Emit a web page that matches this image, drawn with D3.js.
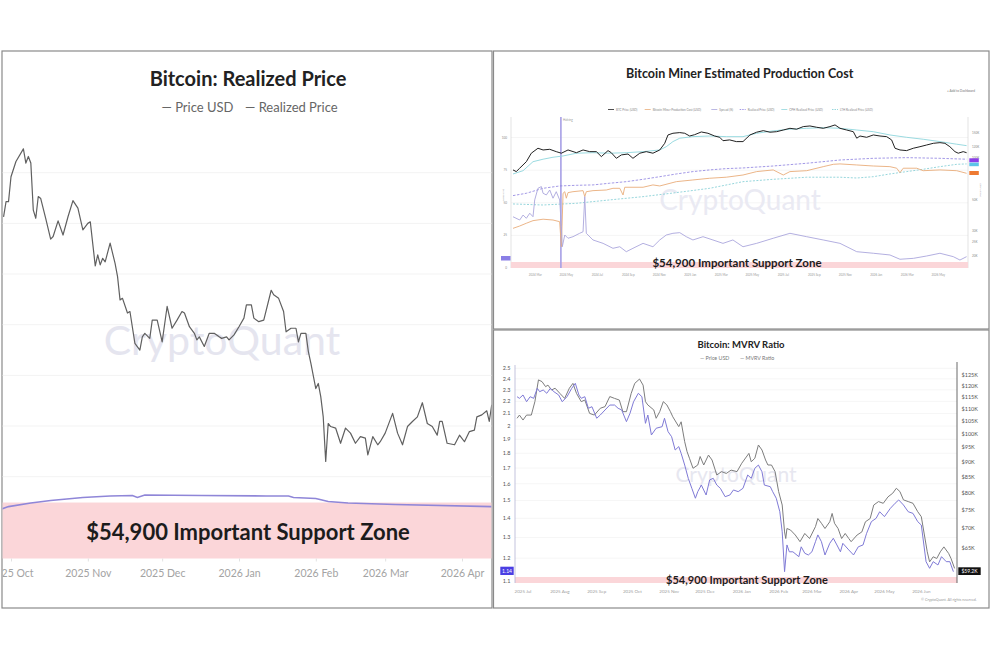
<!DOCTYPE html>
<html>
<head>
<meta charset="utf-8">
<script src="https://cdn.jsdelivr.net/npm/d3@7"></script>
<style>
  body { margin: 0; background: #fff; }
  text { font-family: Lato, "Open Sans", sans-serif; }
</style>
</head>
<body>
<svg id="chart" width="990" height="660"></svg>
<script>
// ---------- left panel: Bitcoin Realized Price (values in $K) ----------
const rpPrice = [
  ["2025-09-28",111.3],["2025-09-29",114.3],["2025-09-30",114.3],["2025-10-01",119.2],["2025-10-03",122.2],
  ["2025-10-06",124.7],["2025-10-07",121.9],["2025-10-08",123.2],["2025-10-09",121.9],["2025-10-10",112.6],
  ["2025-10-11",111.0],["2025-10-12",115.3],["2025-10-13",114.9],["2025-10-15",111.0],["2025-10-17",106.9],
  ["2025-10-18",107.4],["2025-10-20",110.5],["2025-10-22",107.7],["2025-10-24",111.3],["2025-10-26",114.5],
  ["2025-10-28",113.0],["2025-10-30",108.7],["2025-11-01",110.0],["2025-11-02",110.3],["2025-11-04",101.6],
  ["2025-11-05",103.8],["2025-11-06",101.8],["2025-11-07",103.1],["2025-11-08",102.4],["2025-11-10",106.1],
  ["2025-11-12",102.1],["2025-11-13",99.5],["2025-11-14",94.9],["2025-11-15",95.2],["2025-11-17",92.3],
  ["2025-11-18",92.6],["2025-11-20",86.3],["2025-11-22",85.0],["2025-11-23",87.6],["2025-11-24",88.3],
  ["2025-11-26",87.3],["2025-11-27",90.9],["2025-11-29",90.9],["2025-12-01",86.6],["2025-12-03",93.6],
  ["2025-12-05",89.3],["2025-12-07",90.9],["2025-12-09",92.6],["2025-12-10",92.3],["2025-12-12",89.6],
  ["2025-12-14",88.3],["2025-12-15",87.0],["2025-12-16",87.6],["2025-12-18",85.7],["2025-12-20",88.3],
  ["2025-12-22",88.3],["2025-12-24",87.6],["2025-12-25",87.3],["2025-12-27",87.6],["2025-12-28",87.0],
  ["2025-12-30",88.0],["2026-01-01",89.6],["2026-01-03",91.3],["2026-01-04",93.9],["2026-01-06",93.9],
  ["2026-01-07",91.3],["2026-01-09",90.6],["2026-01-11",90.9],["2026-01-14",96.8],["2026-01-15",95.9],
  ["2026-01-17",95.2],["2026-01-19",92.6],["2026-01-20",88.6],["2026-01-22",89.3],["2026-01-24",89.3],
  ["2026-01-25",86.6],["2026-01-26",88.3],["2026-01-28",88.3],["2026-01-29",84.7],["2026-01-30",82.4],
  ["2026-02-01",77.4],["2026-02-02",78.4],["2026-02-03",75.8],["2026-02-04",71.8],["2026-02-05",63.0],
  ["2026-02-06",70.5],["2026-02-07",69.9],["2026-02-09",69.6],["2026-02-11",66.6],["2026-02-13",69.6],
  ["2026-02-15",68.6],["2026-02-17",66.6],["2026-02-19",67.9],["2026-02-21",67.6],["2026-02-22",64.3],
  ["2026-02-24",67.9],["2026-02-26",66.3],["2026-02-27",66.9],["2026-03-01",68.6],["2026-03-04",72.5],
  ["2026-03-06",68.6],["2026-03-08",66.3],["2026-03-10",69.9],["2026-03-12",70.9],["2026-03-14",71.8],
  ["2026-03-16",74.6],["2026-03-18",70.5],["2026-03-20",69.9],["2026-03-22",68.2],["2026-03-23",70.9],
  ["2026-03-24",70.9],["2026-03-26",66.6],["2026-03-29",66.3],["2026-03-31",68.2],["2026-04-02",66.9],
  ["2026-04-04",68.9],["2026-04-06",69.2],["2026-04-07",71.8],["2026-04-09",72.2],["2026-04-11",73.0],
  ["2026-04-12",70.9],["2026-04-13",74.2]
];
const rpRealized = [
  ["2025-09-27",53.6],["2025-09-30",54.1],["2025-10-09",54.8],["2025-10-17",55.3],["2025-10-30",55.9],
  ["2025-11-10",56.2],["2025-11-19",56.3],["2025-11-21",55.9],["2025-11-24",56.4],["2025-12-17",56.3],
  ["2026-01-12",56.2],["2026-01-21",56.2],["2026-01-23",55.9],["2026-02-01",55.7],["2026-02-06",55.1],
  ["2026-02-14",54.8],["2026-03-05",54.5],["2026-04-13",54.1]
];
const rpGrid = [60, 70, 80, 90, 100, 110, 120];
const rpMonths = ["2025-10-01","2025-11-01","2025-12-01","2026-01-01","2026-02-01","2026-03-01","2026-04-01"];
const supportLevel = 54.9;
const supportLabel = "$54,900 Important Support Zone";

// ---------- top-right panel: Miner Production Cost (t = months since 2024-01) ----------
const pcBtc = [
  [0.56,75.2],[0.77,73.9],[0.99,76.5],[1.42,81.5],[1.74,88.0],[2.17,91.8],[2.5,90.5],[2.93,91.0],[3.35,89.2],
  [3.68,88.0],[4.11,90.5],[4.65,88.4],[5.08,90.5],[5.51,89.2],[5.94,89.2],[6.26,85.4],[6.69,90.0],[6.9,88.4],
  [7.23,84.1],[7.55,86.7],[7.98,87.4],[8.3,84.1],[8.74,88.0],[9.16,89.2],[9.59,88.0],[10.03,90.5],[10.35,95.6],
  [10.56,102.0],[10.88,103.3],[11.32,103.8],[11.64,103.3],[11.96,101.2],[12.28,102.2],[12.71,104.3],[13.14,103.3],
  [13.57,101.2],[13.9,100.2],[14.11,97.6],[14.54,98.2],[14.97,96.9],[15.4,96.9],[15.85,102.0],[16.28,104.1],
  [16.71,105.3],[17.14,104.1],[17.57,104.5],[18.0,105.8],[18.43,107.1],[18.86,106.4],[19.29,108.4],[19.72,108.9],
  [20.15,107.9],[20.58,107.1],[21.01,108.4],[21.34,109.7],[21.66,107.1],[22.09,105.8],[22.52,104.5],[22.74,99.5],
  [22.95,101.2],[23.38,100.2],[23.81,102.0],[24.24,101.2],[24.67,100.7],[24.99,98.2],[25.21,91.8],[25.53,90.5],
  [25.96,90.0],[26.39,91.8],[26.82,93.0],[27.25,94.3],[27.68,95.6],[28.11,96.1],[28.43,95.6],[28.75,93.0],
  [29.08,89.2],[29.29,88.0],[29.61,89.2],[29.83,88.4]
];
const pcCost = [
  [0.56,30.4],[0.99,32.2],[1.42,34.3],[1.85,36.3],[2.5,37.4],[3.14,36.8],[3.57,35.5],[3.68,16.3],[3.79,57.3],
  [3.9,58.5],[4.0,53.5],[4.11,57.8],[4.43,58.5],[5.08,59.3],[5.19,54.7],[5.29,58.5],[5.72,59.3],[6.58,59.8],
  [7.01,61.1],[7.45,61.1],[7.66,56.0],[7.77,61.9],[8.95,61.9],[9.59,63.7],[10.03,62.9],[11.1,66.2],[12.17,67.5],
  [13.25,68.8],[14.32,69.6],[15.4,71.3],[16.28,73.9],[17.35,75.2],[18.0,71.3],[18.43,73.9],[19.51,74.6],
  [20.58,77.7],[21.23,79.5],[21.66,79.8],[22.74,79.0],[23.81,78.2],[24.88,77.7],[25.32,76.5],[25.53,73.1],
  [25.74,76.5],[26.61,76.5],[27.03,74.6],[28.11,75.2],[29.19,74.6],[29.83,72.6]
];
const pcSpread = [
  [0.56,39.3],[0.99,36.8],[1.21,40.6],[1.42,38.1],[1.64,42.0],[1.85,39.3],[1.96,52.2],[2.17,61.1],[2.39,62.4],
  [2.5,57.3],[2.71,56.0],[2.93,59.8],[3.14,53.5],[3.35,58.5],[3.57,52.2],[3.68,31.7],[3.74,16.3],[3.9,25.3],
  [4.11,22.8],[4.43,24.0],[4.86,26.6],[5.08,27.8],[5.19,54.7],[5.29,26.6],[5.72,21.5],[6.37,18.9],[7.01,15.1],
  [7.45,16.3],[7.87,12.5],[8.3,15.1],[8.95,18.9],[9.59,16.3],[10.03,21.5],[10.45,25.3],[10.88,26.6],[11.32,27.1],
  [11.74,24.0],[12.17,21.5],[12.82,24.0],[13.46,21.5],[14.11,18.9],[14.75,21.5],[15.4,16.3],[16.28,18.9],
  [17.35,22.8],[18.43,26.6],[19.51,24.0],[20.58,21.5],[21.66,18.9],[22.74,12.5],[23.81,11.3],[24.88,10.0],
  [25.53,6.7],[26.39,7.4],[27.25,9.2],[28.11,11.3],[28.97,8.7],[29.4,6.1],[29.83,8.7]
];
const pcRealized = [
  [0.56,55.5],[1.42,57.3],[2.5,61.1],[3.57,62.9],[4.65,63.4],[5.72,63.7],[6.8,65.0],[7.87,66.2],[8.95,68.0],
  [10.03,70.0],[11.1,72.1],[12.17,73.9],[13.25,75.2],[14.32,76.2],[15.4,76.7],[17.35,78.2],[19.51,80.3],
  [21.66,82.8],[23.81,84.1],[25.96,84.6],[28.11,84.1],[29.83,83.4]
];
const pcCphRealized = [
  [0.56,72.1],[1.21,74.6],[1.85,81.5],[2.5,83.4],[3.14,84.9],[3.79,85.9],[4.65,88.0],[5.72,88.4],[6.8,88.0],
  [7.87,88.4],[8.95,89.2],[10.03,90.5],[10.45,93.0],[10.88,96.9],[11.32,99.5],[12.17,100.7],[13.25,101.2],
  [14.32,100.7],[15.4,100.7],[16.28,103.3],[17.35,105.1],[18.43,106.4],[19.51,107.1],[20.58,107.6],[21.66,107.1],
  [22.74,105.8],[23.81,104.5],[24.88,102.0],[25.96,100.2],[27.03,98.7],[28.11,96.9],[29.19,94.9],[29.83,93.8]
];
const pcLthRealized = [
  [0.56,49.1],[2.5,48.3],[4.65,49.6],[6.8,52.2],[8.95,54.7],[11.1,57.8],[13.25,61.1],[15.4,66.2],[17.35,68.0],
  [19.51,69.6],[21.66,69.6],[22.74,69.0],[23.81,70.0],[24.88,72.1],[25.96,73.9],[27.03,75.7],[28.11,77.7],
  [29.19,79.5],[29.83,79.8]
];
const pcHalving = 3.65;
const pcTickMonths = [2,4,6,8,10,12,14,16,18,20,22,24,26,28];
const pcTickLabels = ["2024 Mar","2024 May","2024 Jul","2024 Sep","2024 Nov","2025 Jan","2025 Mar",
                      "2025 May","2025 Jul","2025 Sep","2025 Nov","2026 Jan","2026 Mar","2026 May"];
const pcLeftTicks = [0, 25, 50, 75, 100];
const pcRightTicks = [20, 25, 30, 50, 100, 120, 150];
const pcLegend = ["BTC Price (USD)","Bitcoin Miner Production Cost (USD)","Spread (%)",
                  "Realized Price (USD)","CPH Realized Price (USD)","LTH Realized Price (USD)"];

// ---------- bottom-right panel: MVRV Ratio (day offsets from 2025-07-01) ----------
const mvRatio = [
  [-5,2.24],[-3,2.226],[0,2.255],[3,2.197],[6,2.24],[9,2.226],[12,2.314],[14,2.284],[17,2.299],[20,2.27],
  [23,2.314],[26,2.284],[30,2.255],[33,2.197],[37,2.24],[41,2.314],[44,2.359],[47,2.255],[49,2.226],[52,2.24],
  [55,2.142],[58,2.155],[62,2.061],[65,2.087],[69,2.128],[73,2.169],[77,2.169],[80,2.142],[83,2.128],[87,2.034],
  [90,2.101],[93,2.197],[97,2.27],[100,2.24],[103,2.021],[105,2.087],[108,1.932],[112,1.983],[117,1.995],
  [119,2.061],[122,1.957],[125,1.919],[128,1.823],[131,1.847],[133,1.8],[136,1.72],[139,1.634],[142,1.572],
  [145,1.513],[147,1.552],[150,1.592],[154,1.532],[157,1.624],[160,1.634],[163,1.592],[166,1.572],[170,1.522],
  [174,1.532],[177,1.562],[181,1.552],[185,1.572],[189,1.655],[192,1.634],[195,1.699],[198,1.72],[201,1.676],
  [203,1.592],[208,1.582],[210,1.552],[213,1.513],[216,1.436],[218,1.329],[220,1.139],[222,1.263],[224,1.23],
  [227,1.23],[232,1.207],[234,1.254],[237,1.223],[240,1.215],[243,1.23],[246,1.279],[248,1.313],[251,1.279],
  [254,1.215],[258,1.271],[261,1.296],[264,1.263],[267,1.23],[269,1.271],[274,1.239],[278,1.215],[282,1.254],
  [286,1.263],[289,1.321],[293,1.382],[297,1.4],[300,1.436],[304,1.409],[309,1.455],[313,1.484],[316,1.503],
  [320,1.474],[324,1.436],[328,1.427],[332,1.382],[335,1.364],[339,1.184],[342,1.154],[345,1.184],[349,1.169],
  [352,1.207],[356,1.184],[359,1.184],[362,1.139]
];
const mvPrice = [
  [-5,106.1],[-3,107.4],[0,105.4],[3,107.4],[7,107.4],[10,113.0],[13,122.7],[16,121.9],[19,119.6],[21,120.3],
  [24,118.1],[27,118.9],[31,116.6],[35,114.4],[39,118.9],[42,121.1],[45,116.6],[49,113.0],[52,113.7],[56,108.1],
  [60,107.4],[65,110.2],[69,110.9],[73,115.2],[77,114.4],[81,113.7],[84,108.8],[87,108.8],[91,116.6],[94,121.1],
  [98,123.1],[101,120.3],[103,113.0],[105,111.6],[110,109.5],[112,106.1],[115,108.8],[118,113.0],[121,111.6],
  [124,108.8],[126,106.7],[131,102.8],[133,104.7],[136,97.1],[138,93.5],[140,91.2],[143,87.8],[147,88.9],
  [149,91.8],[152,88.9],[156,92.3],[159,90.6],[163,85.6],[167,86.7],[171,86.1],[175,87.2],[180,86.7],[184,89.5],
  [190,92.9],[192,90.0],[195,91.2],[198,95.9],[201,94.1],[204,90.6],[206,88.9],[209,88.9],[212,86.7],[215,80.4],
  [218,76.4],[220,69.0],[221,67.3],[222,69.9],[225,69.5],[229,68.2],[233,66.5],[237,68.6],[241,67.3],[246,70.4],
  [248,72.6],[251,71.3],[254,69.9],[258,71.7],[260,74.0],[262,71.3],[265,69.9],[268,67.3],[271,68.6],[274,67.3],
  [276,66.5],[281,68.2],[285,69.0],[288,71.7],[292,72.6],[295,76.4],[299,77.4],[303,76.9],[307,78.8],[311,79.9],
  [314,81.4],[317,80.4],[320,77.9],[324,77.4],[328,76.9],[332,74.5],[335,73.1],[340,64.0],[342,61.6],[345,62.8],
  [348,62.4],[351,64.0],[354,65.2],[358,63.6],[360,62.4],[363,60.1]
];
const mvLeftTicks = [1.1,1.2,1.3,1.4,1.5,1.6,1.7,1.8,1.9,2,2.1,2.2,2.3,2.4,2.5];
const mvRightTicks = [65,70,75,80,85,90,95,100,105,110,115,120,125];
const mvMonths = ["2025-07-01","2025-08-01","2025-09-01","2025-10-01","2025-11-01","2025-12-01",
                  "2026-01-01","2026-02-01","2026-03-01","2026-04-01","2026-05-01","2026-06-01"];
const mvLastRatio = "1.14";
const mvLastPrice = "$59.2K";

// ---------- drawing ----------
const svg = d3.select("#chart");
const parse = d3.timeParse("%Y-%m-%d");
const monthFmt = d3.timeFormat("%Y %b");
const PINK = "#fbd6d9";
const WATERMARK = "#e5e5ef";

// ===== LEFT PANEL =====
const L = { x0: 2, x1: 492, top: 51, bottom: 608, plotBottom: 558.5 };
const left = svg.append("g");
left.append("rect").attr("x", L.x0).attr("y", L.top).attr("width", L.x1 - L.x0).attr("height", L.bottom - L.top)
  .attr("fill", "#fff").attr("stroke", "#8a8a8a").attr("stroke-width", 1.2);
svg.append("clipPath").attr("id", "clipL").append("rect")
  .attr("x", L.x0 + 0.6).attr("y", L.top).attr("width", L.x1 - L.x0 - 1.2).attr("height", L.bottom - L.top);

const xL = d3.scaleTime().domain([new Date(2025, 9, 1), new Date(2026, 3, 1)]).range([11, 462]);
const yL = d3.scaleLinear().domain([60, 120]).range([476.7, 172.7]);

const plotL = left.append("g").attr("clip-path", "url(#clipL)");
plotL.selectAll(".gl").data(rpGrid).join("line")
  .attr("x1", L.x0).attr("x2", L.x1).attr("y1", d => yL(d)).attr("y2", d => yL(d))
  .attr("stroke", "#f3f3f3").attr("stroke-width", 1);
plotL.append("text").attr("x", 222).attr("y", 355).attr("text-anchor", "middle")
  .attr("font-size", 41).attr("fill", WATERMARK).text("CryptoQuant");
plotL.append("rect").attr("x", L.x0).attr("y", yL(supportLevel)).attr("width", L.x1 - L.x0)
  .attr("height", L.plotBottom - yL(supportLevel)).attr("fill", PINK);

const lineL = d3.line().x(d => xL(parse(d[0]))).y(d => yL(d[1]));
plotL.append("path").datum(rpRealized).attr("d", lineL).attr("fill", "none")
  .attr("stroke", "#8f86d8").attr("stroke-width", 1.6);
plotL.append("path").datum(rpPrice).attr("d", lineL).attr("fill", "none")
  .attr("stroke", "#606060").attr("stroke-width", 1.2).attr("stroke-linejoin", "round");

plotL.append("text").attr("x", 248).attr("y", 540).attr("text-anchor", "middle")
  .attr("font-size", 22).attr("font-weight", 700).attr("fill", "#1c1c1c").text(supportLabel);

const axL = plotL.append("g").attr("transform", `translate(0,${L.plotBottom})`)
  .call(d3.axisBottom(xL).tickValues(rpMonths.map(parse)).tickFormat(monthFmt).tickSize(3).tickPadding(8));
axL.select(".domain").remove();
axL.selectAll("line").attr("stroke", "#e2e2e2");
axL.selectAll("text").attr("fill", "#a3a3a3").attr("font-size", 10.5).attr("font-family", "Lato, sans-serif");

left.append("text").attr("x", 248).attr("y", 86).attr("text-anchor", "middle")
  .attr("font-size", 20).attr("font-weight", 700).attr("fill", "#222").text("Bitcoin: Realized Price");
const legL = left.append("g").attr("font-size", 13).attr("fill", "#666");
legL.append("text").attr("x", 161.5).attr("y", 111.5).text("— Price USD");
legL.append("text").attr("x", 245).attr("y", 111.5).text("— Realized Price");

// ===== TOP-RIGHT PANEL =====
const T = { x0: 493.5, x1: 989, top: 51, bottom: 329 };
const tr = svg.append("g");
tr.append("rect").attr("x", T.x0).attr("y", T.top).attr("width", T.x1 - T.x0).attr("height", T.bottom - T.top)
  .attr("fill", "#fff").attr("stroke", "#8a8a8a").attr("stroke-width", 1.2);

const xT = d3.scaleLinear().domain([0.43, 29.92]).range([511, 968]);
const yT = d3.scaleLinear().domain([0, 115]).range([268, 118]);
const yTR = d3.scaleLog().domain([16.3, 193]).range([268, 118]);

tr.selectAll(".gt").data(pcLeftTicks.slice(1)).join("line")
  .attr("x1", 511).attr("x2", 968).attr("y1", d => yT(d)).attr("y2", d => yT(d))
  .attr("stroke", "#f5f5f5");
tr.append("line").attr("x1", 511).attr("x2", 511).attr("y1", 117).attr("y2", 268).attr("stroke", "#d0d0d0").attr("stroke-width", 0.6);
tr.append("line").attr("x1", 968).attr("x2", 968).attr("y1", 117).attr("y2", 268).attr("stroke", "#d0d0d0").attr("stroke-width", 0.6);
tr.append("text").attr("x", 740).attr("y", 210).attr("text-anchor", "middle")
  .attr("font-size", 28).attr("fill", "#eaeaf3").text("CryptoQuant");

tr.append("rect").attr("x", 511).attr("y", 262).attr("width", 457).attr("height", 6).attr("fill", PINK);

tr.append("line").attr("x1", xT(pcHalving)).attr("x2", xT(pcHalving)).attr("y1", 117).attr("y2", 268)
  .attr("stroke", "#a79fe6").attr("stroke-width", 1.6);
tr.append("text").attr("x", xT(pcHalving) + 2).attr("y", 121).attr("font-size", 3).attr("fill", "#999").text("Halving");

const lineT = d3.line().x(d => xT(d[0])).y(d => yT(d[1]));
const seriesT = [
  { data: pcLthRealized, color: "#7ccbd3", width: 0.8, dash: "2,1.5" },
  { data: pcRealized, color: "#8c7fe0", width: 0.8, dash: "2.5,1.5" },
  { data: pcCphRealized, color: "#8fd6dc", width: 0.9, dash: null },
  { data: pcCost, color: "#e9ad7a", width: 0.9, dash: null },
  { data: pcSpread, color: "#aaa6dc", width: 0.9, dash: null },
  { data: pcBtc, color: "#222", width: 1.0, dash: null }
];
seriesT.forEach(s => {
  tr.append("path").datum(s.data).attr("d", lineT).attr("fill", "none")
    .attr("stroke", s.color).attr("stroke-width", s.width).attr("stroke-dasharray", s.dash);
});

tr.append("text").attr("x", 737).attr("y", 266.7).attr("text-anchor", "middle")
  .attr("font-size", 11.5).attr("font-weight", 700).attr("fill", "#1c1c1c").text(supportLabel);

tr.selectAll(".tlt").data(pcLeftTicks).join("text")
  .attr("x", 507).attr("y", d => yT(d) + 1).attr("text-anchor", "end")
  .attr("font-size", 3).attr("fill", "#888").text(d => d);
tr.selectAll(".trt").data(pcRightTicks).join("text")
  .attr("x", 972).attr("y", d => yTR(d) + 1).attr("font-size", 3).attr("fill", "#888").text(d => d + "K");
tr.selectAll(".txt").data(pcTickMonths).join("text")
  .attr("x", d => xT(d)).attr("y", 275.5).attr("text-anchor", "middle")
  .attr("font-size", 3).attr("fill", "#999").text((d, i) => pcTickLabels[i]);
tr.append("text").attr("transform", "translate(504,195) rotate(-90)").attr("text-anchor", "middle")
  .attr("font-size", 2.6).attr("fill", "#999").text("Spread (%)");
tr.append("text").attr("transform", "translate(981,190) rotate(-90)").attr("text-anchor", "middle")
  .attr("font-size", 2.6).attr("fill", "#999").text("Price (USD)");

const tagsT = [
  { x: 969.3, y: 158.3, h: 4, color: "#8a3ee8" },
  { x: 969.3, y: 162.6, h: 3.6, color: "#5cc4e8" },
  { x: 969.3, y: 171, h: 4, color: "#ee7a32" },
  { x: 501, y: 256, h: 4.5, color: "#8a7fe6" }
];
tr.selectAll(".tag").data(tagsT).join("rect")
  .attr("x", d => d.x).attr("y", d => d.y).attr("width", 9.5).attr("height", d => d.h).attr("fill", d => d.color);

tr.append("text").attr("x", 739.7).attr("y", 78).attr("text-anchor", "middle")
  .attr("font-size", 12.5).attr("font-weight", 700).attr("fill", "#222").text("Bitcoin Miner Estimated Production Cost");
tr.append("text").attr("x", 975).attr("y", 92).attr("text-anchor", "end")
  .attr("font-size", 3.2).attr("fill", "#777").text("+  Add to Dashboard");
const legColors = ["#222", "#e9ad7a", "#aaa6dc", "#8c7fe0", "#8fd6dc", "#7ccbd3"];
const legDash = [null, null, null, "1.5,1", null, "1.5,1"];
const legX = [608, 644.7, 711.3, 739.7, 781.3, 832];
legX.forEach((x, i) => {
  tr.append("line").attr("x1", x).attr("x2", x + 6).attr("y1", 109.5).attr("y2", 109.5)
    .attr("stroke", legColors[i]).attr("stroke-width", 0.8).attr("stroke-dasharray", legDash[i]);
  tr.append("text").attr("x", x + 8).attr("y", 110.5).attr("font-size", 3).attr("fill", "#888").text(pcLegend[i]);
});

// ===== BOTTOM-RIGHT PANEL =====
const B = { x0: 493.5, x1: 989, top: 330, bottom: 608 };
const br = svg.append("g");
br.append("rect").attr("x", B.x0).attr("y", B.top).attr("width", B.x1 - B.x0).attr("height", B.bottom - B.top)
  .attr("fill", "#fff").attr("stroke", "#8a8a8a").attr("stroke-width", 1.2);

const mvBase = new Date(2025, 6, 1);
const xB = d3.scaleTime().domain([new Date(2025, 6, 1), new Date(2026, 5, 1)]).range([523, 921.3]);
const yB = d3.scaleLog().domain([1.1, 2.5]).range([580.7, 368.3]);
const yBR = d3.scaleLog().domain([65, 125]).range([547.7, 375]);

br.selectAll(".gb").data(mvLeftTicks).join("line")
  .attr("x1", 515).attr("x2", 957).attr("y1", d => yB(d)).attr("y2", d => yB(d)).attr("stroke", "#f6f6f6");
br.append("text").attr("x", 736).attr("y", 482).attr("text-anchor", "middle")
  .attr("font-size", 21).attr("fill", "#e7e7f0").text("CryptoQuant");
br.append("rect").attr("x", 515).attr("y", 577).attr("width", 442).attr("height", 6).attr("fill", PINK);

const lineB = d3.line().x(d => xB(d3.timeDay.offset(mvBase, d[0])));
br.append("path").datum(mvPrice).attr("d", lineB.y(d => yBR(d[1]))).attr("fill", "none")
  .attr("stroke", "#7d7d7d").attr("stroke-width", 1);
br.append("path").datum(mvRatio).attr("d", lineB.y(d => yB(d[1]))).attr("fill", "none")
  .attr("stroke", "#7f7ad6").attr("stroke-width", 1);

br.append("line").attr("x1", 515).attr("x2", 515).attr("y1", 365).attr("y2", 583).attr("stroke", "#b4b4d4").attr("stroke-width", 0.8);
br.append("line").attr("x1", 957).attr("x2", 957).attr("y1", 362).attr("y2", 583).attr("stroke", "#444").attr("stroke-width", 0.8);

br.append("text").attr("x", 747).attr("y", 583.5).attr("text-anchor", "middle")
  .attr("font-size", 11).attr("font-weight", 700).attr("fill", "#1c1c1c").text(supportLabel);

br.selectAll(".blt").data(mvLeftTicks).join("text")
  .attr("x", 510.5).attr("y", d => yB(d) + 2).attr("text-anchor", "end")
  .attr("font-size", 5.5).attr("fill", "#555").text(d => d3.format("~")(d));
br.selectAll(".brt").data(mvRightTicks).join("text")
  .attr("x", 961.5).attr("y", d => yBR(d) + 2).attr("font-size", 5.5).attr("fill", "#555").text(d => "$" + d + "K");
br.selectAll(".bxt").data(mvMonths).join("text")
  .attr("x", d => xB(parse(d))).attr("y", 593).attr("text-anchor", "middle")
  .attr("font-size", 4.5).attr("fill", "#a0a0a0").text(d => monthFmt(parse(d)));

br.append("rect").attr("x", 500.3).attr("y", 566.7).attr("width", 13.4).attr("height", 8.3).attr("fill", "#4b3fe3");
br.append("text").attr("x", 507).attr("y", 572.8).attr("text-anchor", "middle").attr("font-size", 5).attr("fill", "#fff").text(mvLastRatio);
br.append("rect").attr("x", 958.3).attr("y", 567.3).attr("width", 22.4).attr("height", 7.7).attr("fill", "#111");
br.append("text").attr("x", 969.5).attr("y", 573).attr("text-anchor", "middle").attr("font-size", 5).attr("fill", "#fff").text(mvLastPrice);

br.append("text").attr("x", 741).attr("y", 348).attr("text-anchor", "middle")
  .attr("font-size", 9.5).attr("font-weight", 700).attr("fill", "#222").text("Bitcoin: MVRV Ratio");
br.append("text").attr("x", 700).attr("y", 360).attr("font-size", 5.3).attr("fill", "#777").text("— Price USD");
br.append("text").attr("x", 740).attr("y", 360).attr("font-size", 5.3).attr("fill", "#777").text("— MVRV Ratio");
br.append("text").attr("x", 976.7).attr("y", 601).attr("text-anchor", "end")
  .attr("font-size", 3.6).attr("fill", "#999").text("© CryptoQuant. All rights reserved.");
</script>
</body>
</html>
